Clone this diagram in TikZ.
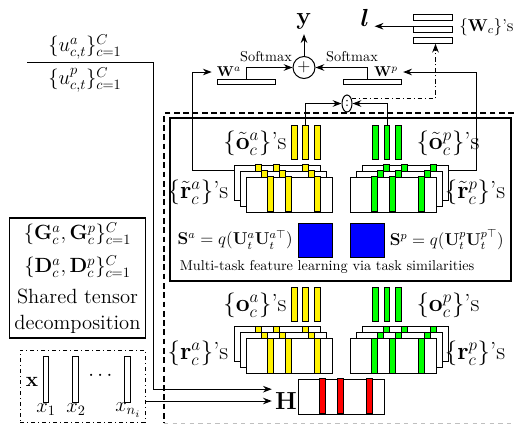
\documentclass[tikz,border=0pt]{standalone}
\usepackage{amsmath}
\usepackage{tikz}
\usetikzlibrary{arrows.meta, positioning, calc, shapes.geometric}

\def\pxu{0.7pt}
\tikzset{
  fmap/.style={draw, fill=white, inner sep=0pt, minimum width=86*\pxu, minimum height=35*\pxu},
  featbar/.style={draw, inner sep=0pt, minimum width=5.5*\pxu, minimum height=34*\pxu},
  wbar/.style={draw, fill=white, inner sep=0pt, minimum width=58*\pxu, minimum height=5*\pxu},
  cbar/.style={draw, fill=white, inner sep=0pt, minimum width=39*\pxu, minimum height=5.5*\pxu},
  xbar/.style={draw, inner sep=0pt, minimum width=5.5*\pxu, minimum height=46*\pxu},
  lbl/.style={font=\LARGE, inner sep=1pt},
  txt/.style={font=\Large, inner sep=1pt},
}
% three stacked feature maps: name, front centre x, y, side (+/-), stripe colour
\newcommand{\featstack}[5]{%
  \foreach \d in {12,6,0} {
    \node[fmap] (#1-\d) at ({#2 #4 \d}, {#3-\d}) {};
    \foreach \s in {22,39.5,69}
      \filldraw[fill=#5] ($(#1-\d.north west)+(\s,0)$) rectangle ++(6,35);
  }
}

\begin{document}
\begin{tikzpicture}[x=0.7pt, y=-0.7pt, >=Stealth, line width=0.7pt]
  \useasboundingbox (0,0) rectangle (514,425);

  % frames
  \draw[thick, dash pattern=on 4pt off 2.5pt] (514,113) -- (164,113) -- (164,423);
  \draw[semithick, dashed, gray!50] (164,423) -- (514,423);
  \draw[line width=1.2pt] (170,118) rectangle (511,281);

  % outputs
  \node[font=\LARGE] (yout) at (304,21) {$\mathbf{y}$};
  \node[draw, circle, minimum size=22*\pxu, inner sep=0pt, font=\large] (plus) at (304,67.5) {$+$};
  \node (sma) at (266,57) {Softmax};
  \node (smp) at (352,57) {Softmax};
  \node[wbar] (wa) at (246,81.5) {};
  \node[wbar] (wp) at (372.5,81.5) {};
  \node (lwa) at (229,72) {$\mathbf{W}^a$};
  \node (lwp) at (386,72) {$\mathbf{W}^p$};
  \foreach \y [count=\i] in {17.5,29.5,40.5}
    \node[cbar] (wc\i) at (432.5,\y) {};
  \node[font=\large, anchor=west] (lwc) at (454,27) {$\{\mathbf{W}_c\}$'s};
  \node[font=\LARGE] (ell) at (365,18) {$\boldsymbol{l}$};
  \node[draw, ellipse, minimum width=10*\pxu, minimum height=17*\pxu, inner sep=0pt] (colon) at (347,103.5) {$:$};

  % multi-task block
  \foreach \x [count=\i] in {294.5,305.5,317.5} {
    \node[featbar, fill=yellow] (ota\i) at (\x,142) {};
    \node[featbar, fill=yellow] (oa\i) at (\x,304.5) {};
  }
  \foreach \x [count=\i] in {375.5,387,398.5} {
    \node[featbar, fill=green] (otp\i) at (\x,142) {};
    \node[featbar, fill=green] (op\i) at (\x,304.5) {};
  }
  \featstack{ta}{289}{194.5}{-}{yellow}
  \featstack{tp}{393}{194.5}{+}{green}
  \featstack{ra}{289}{356}{-}{yellow}
  \featstack{rp}{393}{356}{+}{green}
  \node[lbl] (lota) at (255,143) {$\{\tilde{\mathbf{o}}^a_c\}$'s};
  \node[lbl] (lotp) at (448,143) {$\{\tilde{\mathbf{o}}^p_c\}$'s};
  \node[lbl] (lrta) at (198,192) {$\{\tilde{\mathbf{r}}^a_c\}$'s};
  \node[lbl] (lrtp) at (475,192) {$\{\tilde{\mathbf{r}}^p_c\}$'s};
  \node[lbl] (loa) at (255,305) {$\{\mathbf{o}^a_c\}$'s};
  \node[lbl] (lop) at (448,305) {$\{\mathbf{o}^p_c\}$'s};
  \node[lbl] (lra) at (198,353) {$\{\mathbf{r}^a_c\}$'s};
  \node[lbl] (lrp) at (475,353) {$\{\mathbf{r}^p_c\}$'s};
  \node[draw, fill=blue, minimum size=34*\pxu, inner sep=0pt] (sqa) at (315,240) {};
  \node[draw, fill=blue, minimum size=34*\pxu, inner sep=0pt] (sqp) at (367.5,240) {};
  \node[font=\large, inner sep=1pt, left=2pt of sqa] (seqa) {$\mathbf{S}^a = q(\mathbf{U}^a_t\mathbf{U}^{a\top}_t)$};
  \node[font=\large, inner sep=1pt, right=2pt of sqp] (seqp) {$\mathbf{S}^p = q(\mathbf{U}^p_t\mathbf{U}^{p\top}_t)$};
  \node[inner sep=1pt] (mtl) at (327,267) {Multi-task feature learning via task similarities};

  % shared representation
  \node[fmap] (hmat) at (341,396.5) {};
  \foreach \s in {22,39.5,69}
    \filldraw[fill=red] ($(hmat.north west)+(\s,0)$) rectangle ++(6,35);
  \node[font=\LARGE, inner sep=2pt] (hlab) at (286,401) {$\mathbf{H}$};

  % inputs
  \node[txt] (ua) at (85,47) {$\{u^a_{c,t}\}^C_{c=1}$};
  \node[txt] (up) at (85,80) {$\{u^p_{c,t}\}^C_{c=1}$};
  \coordinate (ubar) at (27,62);
  \node[draw, line width=1.2pt, align=center, font=\Large, inner xsep=3.5pt, inner ysep=3pt] (decomp) at (77.5,278)
    {$\{\mathbf{G}^a_c, \mathbf{G}^p_c\}^C_{c=1}$\\[5pt]
     $\{\mathbf{D}^a_c, \mathbf{D}^p_c\}^C_{c=1}$\\[4pt]
     Shared tensor\\ decomposition};
  \node[draw, dash dot, minimum width=125*\pxu, minimum height=72*\pxu] (xin) at (82.5,386) {};
  \foreach \x [count=\i] in {46,75.5,127.5}
    \node[xbar] (xb\i) at (\x,379) {};
  \node[txt] (xlab) at (32,382) {$\mathbf{x}$};
  \node[txt] (xdots) at (102,376) {$\cdots$};
  \node[txt] (x1) at (46,410) {$x_1$};
  \node[txt] (x2) at (76,410) {$x_2$};
  \node[txt] (xn) at (128,410) {$x_{n_i}$};

  % connectors
  \draw[->] (ubar) -- ++(126,0) |- (hlab.north west);
  \draw[->] (xin.east |- hlab.west) -- (hlab.west);
  \draw[->] (ota2.north) |- (colon);
  \draw[->] (otp2.north) |- (colon);
  \draw[->, dash dot] (colon.45) -| ($(wc3.south)+(3,0)$);
  \draw[->] (wc2.north west) -- (wc2.north west -| ell.east);
  \draw[->] (plus) -- (yout);
  \draw[->] (wa.north) |- (plus);
  \draw[->] ($(wp.north)+(-5,0)$) |- (plus);
  \draw[->] (ta-12.west |- ta-6.north) -- ++(-41,0) |- (lwa);
  \draw[->] (tp-12.east |- tp-6.north) -- ++(28,0) |- (lwp);
\end{tikzpicture}
\end{document}
